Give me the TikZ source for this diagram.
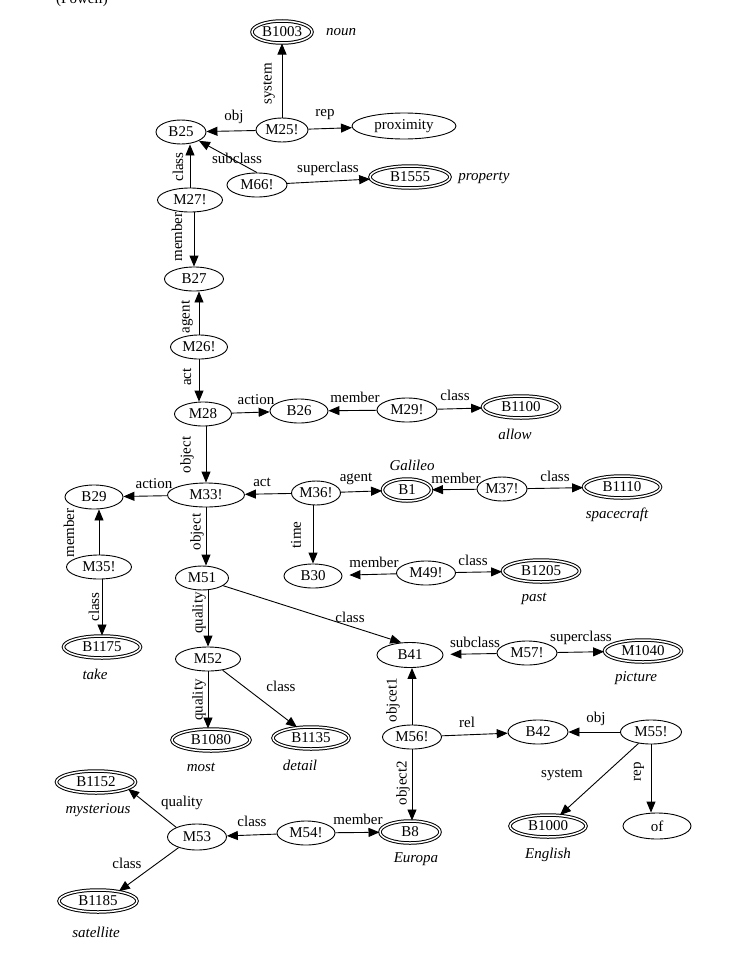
\documentclass[tikz,border=0pt]{standalone}
\usepackage{fontspec}
\setmainfont{Liberation Serif}
\usetikzlibrary{shapes.geometric,arrows.meta,calc}
\begin{document}
\begin{tikzpicture}[x=1pt,y=-1pt,
  font=\fontsize{15}{17}\selectfont,
  sn/.style={ellipse, draw, line width=0.9pt, inner sep=0pt, minimum width=#1, minimum height=24pt},
  sn/.default=58pt,
  dn/.style={ellipse, draw, line width=1pt, double, double distance=1.5pt, inner sep=0pt, minimum width=#1, minimum height=22pt},
  dn/.default=77pt,
  lab/.style={inner sep=0pt},
  vlab/.style={inner sep=0pt, rotate=90},
  it/.style={inner sep=0pt, font=\fontsize{15}{17}\selectfont\itshape},
  arr/.style={line width=0.9pt, -{Triangle[length=11pt,width=9pt]}}
]
\useasboundingbox (0,0) rectangle (750,953);
\clip (0,0) rectangle (750,953);

% header (cut off at the top, as in the reference)
\node[lab, anchor=base] (hdr) at (82,3) {(Powell)};

% nodes
\node[dn=60pt] (B1003) at (282,32) {B1003};
\node[it] (noun) at (341,32) {noun};
\node[sn=52pt] (M25) at (282,130) {M25!};
\node[sn=50pt] (B25) at (181,132) {B25};
\node[sn=104pt, minimum height=26pt] (prox) at (404,126) {proximity};
\node[sn=60pt] (M66) at (257,185) {M66!};
\node[dn=80pt] (B1555) at (410,177) {B1555};
\node[it] (property) at (484,178) {property};
\node[sn=65pt] (M27) at (190,200) {M27!};
\node[sn=59pt] (B27) at (194,279) {B27};
\node[sn=57pt] (M26) at (199,347) {M26!};
\node[sn=57pt] (M28) at (203,414) {M28};
\node[sn=58pt] (B26) at (299,411) {B26};
\node[sn=60pt] (M29) at (407,410) {M29!};
\node[dn] (B1100) at (521,407) {B1100};
\node[it] (allow) at (515,434) {allow};
\node[sn=77pt] (M33) at (206,495) {M33!};
\node[sn] (B29) at (94,497) {B29};
\node[sn=49pt] (M36) at (316,493) {M36!};
\node[dn=49pt] (B1) at (407,490) {B1};
\node[it] (Galileo) at (412,465) {Galileo};
\node[sn=50pt] (M37) at (502,489) {M37!};
\node[dn] (B1110) at (622,487) {B1110};
\node[it] (spacecraft) at (617,515) {spacecraft};
\node[sn=65pt] (M35) at (99,567) {M35!};
\node[dn] (B1175) at (102,647) {B1175};
\node[it] (take) at (95,674) {take};
\node[sn=53pt] (M51) at (202,578) {M51};
\node[sn] (B30) at (313,576) {B30};
\node[sn=59pt] (M49) at (426,573) {M49!};
\node[dn] (B1205) at (541,571) {B1205};
\node[it] (past) at (534,599) {past};
\node[sn=65pt] (M52) at (208,659) {M52};
\node[sn=66pt, minimum height=25pt] (B41) at (410,655) {B41};
\node[sn=60pt] (M57) at (527,653) {M57!};
\node[dn] (M1040) at (643,651) {M1040};
\node[it] (picture) at (636,678) {picture};
\node[dn=78pt] (B1080) at (211,740) {B1080};
\node[it] (most) at (201,767) {most};
\node[dn=76pt] (B1135) at (311,738) {B1135};
\node[it] (detail) at (300,765) {detail};
\node[sn=59pt] (M56) at (412,737) {M56!};
\node[sn=60pt] (B42) at (538,732) {B42};
\node[sn=61pt] (M55) at (651,732) {M55!};
\node[dn=79pt] (B1152) at (96,782) {B1152};
\node[it] (myst) at (98,810) {mysterious};
\node[sn=59pt, minimum height=26pt] (M53) at (197,837) {M53};
\node[sn] (M54) at (306,833) {M54!};
\node[dn=60pt] (B8) at (410,832) {B8};
\node[it] (Europa) at (416,859) {Europa};
\node[dn=76pt] (B1000) at (548,826) {B1000};
\node[it] (English) at (548,855) {English};
\node[sn=68pt, minimum height=26pt] (of) at (657,826) {of};
\node[dn=78pt] (B1185) at (98,901) {B1185};
\node[it] (satellite) at (96,932) {satellite};

% connectors
\draw[arr] (M25) -- (B1003);
\draw[arr] (M25) -- (B25);
\draw[arr] (M25) -- (prox);
\draw[arr] (M66.north) -- (B25.south east);
\draw[arr] (M66) -- (B1555);
\draw[arr] (M27.north) -- (M27.north |- B25.south);
\draw[arr] (B27.north |- M27.south) -- (B27.north);
\draw[arr] (M26.north) -- (M26.north |- B27.south);
\draw[arr] (M26.south) -- (M26.south |- M28.north);
\draw[arr] (M28) -- (B26);
\draw[arr] (M29) -- (B26);
\draw[arr] (M29) -- (B1100);
\draw[arr] (M33.north |- M28.south) -- (M33.north);
\draw[arr] (M33) -- (B29);
\draw[arr] (M36) -- (M33);
\draw[arr] (M36) -- (B1);
\draw[arr] (M37) -- (B1);
\draw[arr] (M37) -- (B1110);
\draw[arr] (M35.north) -- (M35.north |- B29.south);
\draw[arr] (B1175.north |- M35.south) -- (B1175.north);
\draw[arr] (M33.south) -- (M33.south |- M51.north);
\draw[arr] (B30.north |- M36.south) -- (B30.north);
\draw[arr, shorten >=7pt] (M49) -- (B30);
\draw[arr] (M49) -- (B1205);
\draw[arr] (M51.-20) -- (B41.125);
\draw[arr] (M52.north |- M51.south) -- (M52.north);
\draw[arr] (M52.south) -- (M52.south |- B1080.north);
\draw[arr] (M52) -- (B1135);
\draw[arr, shorten >=7pt] (M57) -- (B41);
\draw[arr] (M57) -- (M1040);
\draw[arr] (M56.north) -- (M56.north |- B41.south);
\draw[arr] (M56) -- (B42);
\draw[arr] (M55) -- (B42);
\draw[arr] (M56.south) -- (M56.south |- B8.north);
\draw[arr] (M55) -- (B1000);
\draw[arr] (M55.south) -- (M55.south |- of.north);
\draw[arr] (M53.155) -- (B1152.-12);
\draw[arr] (M54) -- (M53);
\draw[arr] (M54) -- (B8);
\draw[arr] (M53.210) -- (B1185.25);

% connector labels
\node[vlab] (l1) at (269,84) {system};
\node[lab] (l2) at (234,117) {obj};
\node[lab] (l3) at (325,115) {rep};
\node[lab] (l4) at (237,158) {subclass};
\node[lab] (l5) at (328,169) {superclass};
\node[vlab] (l6) at (178,167) {class};
\node[vlab] (l7) at (177,237) {member};
\node[vlab] (l8) at (187,317) {agent};
\node[vlab] (l9) at (187,377) {act};
\node[lab] (l10) at (256,400) {action};
\node[lab] (l11) at (355,397) {member};
\node[lab] (l12) at (455,395) {class};
\node[vlab] (l13) at (187,455) {object};
\node[lab] (l14) at (154,484) {action};
\node[lab] (l15) at (262,482) {act};
\node[lab] (l16) at (356,479) {agent};
\node[lab] (l17) at (456,478) {member};
\node[lab] (l18) at (555,476) {class};
\node[vlab] (l19) at (69,533) {member};
\node[vlab] (l20) at (94,607) {class};
\node[vlab] (l21) at (197,532) {object};
\node[vlab] (l22) at (296,535) {time};
\node[lab] (l23) at (374,562) {member};
\node[lab] (l24) at (473,560) {class};
\node[lab] (l25) at (350,617) {class};
\node[vlab] (l26) at (199,613) {quality};
\node[lab] (l27) at (475,642) {subclass};
\node[lab] (l28) at (581,638) {superclass};
\node[vlab] (l29) at (199,700) {quality};
\node[lab] (l30) at (281,686) {class};
\node[vlab] (l31) at (393,700) {objcet1};
\node[lab] (l32) at (467,722) {rel};
\node[lab] (l33) at (596,719) {obj};
\node[vlab] (l34) at (403,783) {object2};
\node[lab] (l35) at (562,775) {system};
\node[vlab] (l36) at (639,772) {rep};
\node[lab] (l37) at (182,803) {quality};
\node[lab] (l38) at (252,821) {class};
\node[lab] (l39) at (358,819) {member};
\node[lab] (l40) at (127,863) {class};
\end{tikzpicture}
\end{document}
